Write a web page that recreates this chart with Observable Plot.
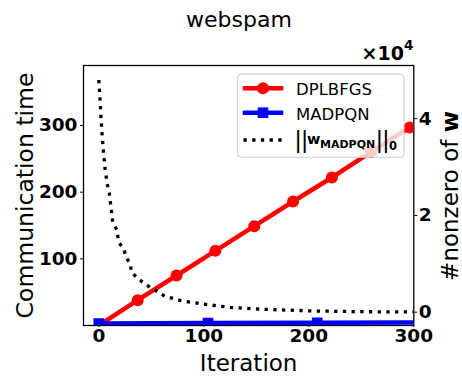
<!DOCTYPE html>
<html><head><meta charset="utf-8">
<script src="https://cdn.jsdelivr.net/npm/d3@7"></script>
<script src="https://cdn.jsdelivr.net/npm/@observablehq/plot@0.6"></script>
<style>
html,body{margin:0;padding:0;background:#fff;}
#wrap{position:relative;width:462px;height:377px;overflow:hidden;font-family:"DejaVu Sans",sans-serif;}
#wrap svg{position:absolute;left:0;top:0;}
</style></head><body><div id="wrap"></div>
<script>
// ---- data ----
const redIter = [0, 37, 74, 111, 148, 185, 222, 259, 296];
const redComm = [0, 38, 75, 112, 149, 186, 222, 260, 297];
const blueIter = [0, 104, 208, 300];
const blueComm = [3, 3.8, 4.2, 4.5];
const blueMarkIter = [0, 104, 208];
const nnzIter = [0, 1, 2, 3, 4.5, 6, 8, 10, 12, 13, 17, 19, 24, 26, 30, 31, 37, 43, 50, 63, 78, 102, 125, 157, 204, 252, 300];
const nnzVal  = [48000, 44500, 40500, 37000, 33000, 29500, 26500, 24500, 21000, 19000, 17000, 14500, 12900, 11400, 9900, 8300, 7000, 6000, 5000, 3300, 2400, 1600, 1000, 600, 250, 100, 50];
const xTicks = [0, 100, 200, 300];
const leftTicks = [100, 200, 300];
const rightTicks = [0, 20000, 40000];
const rightTickLabels = ["0", "2", "4"];
const seriesNames = ["DPLBFGS", "MADPQN"];

const red = redIter.map((x, i) => ({iter: x, comm: redComm[i]}));
const blue = blueIter.map((x, i) => ({iter: x, comm: blueComm[i]}));
const blueMarks = blue.filter(d => blueMarkIter.includes(d.iter));
const nnz = nnzIter.map((x, i) => ({iter: x, v: nnzVal[i]}));

const M = {width: 462, height: 377, marginLeft: 83, marginRight: 48.7, marginTop: 65, marginBottom: 52};
const st = {background: "transparent", fontFamily: "DejaVu Sans", color: "black", overflow: "visible"};

const p1 = Plot.plot({
  ...M, style: st,
  x: {domain: [-14.6, 300]},
  y: {domain: [0, 390]},
  marks: [
    Plot.frame({stroke: "black", strokeWidth: 1.3}),
    Plot.line(red, {x: "iter", y: "comm", stroke: "#ff0000", strokeWidth: 4.5, clip: true}),
    Plot.dot(red.slice(1), {x: "iter", y: "comm", r: 6, fill: "#ff0000", clip: true}),
    Plot.line(blue, {x: "iter", y: "comm", stroke: "#0000ff", strokeWidth: 4.5, clip: true}),
    Plot.dot(blueMarks, {x: "iter", y: "comm", symbol: "square", r: 6, fill: "#0000ff", clip: true}),
    Plot.axisX({ticks: xTicks, tickSize: 2, tickPadding: 1, fontSize: 18.5, fontWeight: "bold", label: null}),
    Plot.axisY({ticks: leftTicks, tickSize: 3, tickPadding: 3, fontSize: 18.5, fontWeight: "bold", label: null}),
    Plot.text(["Iteration"], {text: d => d, frameAnchor: "bottom", dy: 38.5, fontSize: 23, textAnchor: "middle", lineAnchor: "middle"}),
    Plot.text(["Communication time"], {text: d => d, frameAnchor: "left", dx: -58, rotate: -90, fontSize: 23.5, textAnchor: "middle", lineAnchor: "middle"})
  ]
});

const p2 = Plot.plot({
  ...M, style: st,
  x: {domain: [-14.6, 300], axis: null},
  y: {domain: [-2750, 51000]},
  marks: [
    Plot.line(nnz, {x: "iter", y: "v", stroke: "black", strokeWidth: 3.3, strokeDasharray: "3.3,5.4", strokeLinecap: "butt", strokeLinejoin: "miter", clip: true}),
    Plot.axisY({anchor: "right", ticks: rightTicks, tickFormat: d => rightTickLabels[rightTicks.indexOf(d)], tickSize: 3, tickPadding: 2, fontSize: 18.5, fontWeight: "bold", label: null})
  ]
});

const wrap = document.getElementById("wrap");
wrap.appendChild(p1);
wrap.appendChild(p2);

const ov = document.createElementNS("http://www.w3.org/2000/svg", "svg");
ov.setAttribute("width", 462); ov.setAttribute("height", 377);
ov.setAttribute("font-family", "DejaVu Sans");
ov.innerHTML = `
<text x="239" y="27" text-anchor="middle" font-size="22">webspam</text>
<text x="413.3" y="60" text-anchor="end" font-weight="bold" font-size="19">×10<tspan dy="-10" font-size="13.5">4</tspan></text>
<text transform="translate(450.5,196) rotate(-90)" text-anchor="middle" dy="0.32em" font-size="23">#nonzero of <tspan font-weight="bold">w</tspan></text>
<rect x="237.3" y="74" width="166.7" height="83.3" rx="4" fill="white" fill-opacity="0.8" stroke="#cccccc" stroke-width="1"/>
<line x1="242.7" x2="283.3" y1="88.3" y2="88.3" stroke="#ff0000" stroke-width="4.5"/>
<circle cx="263" cy="88.3" r="6" fill="#ff0000"/>
<text x="296" y="95" font-size="16.5">${seriesNames[0]}</text>
<line x1="242.7" x2="283.3" y1="112.7" y2="112.7" stroke="#0000ff" stroke-width="4.5"/>
<rect x="257.7" y="107.4" width="10.6" height="10.6" fill="#0000ff"/>
<text x="296" y="119.5" font-size="16.5">${seriesNames[1]}</text>
<line x1="243.5" x2="283.3" y1="140" y2="140" stroke="black" stroke-width="3.3" stroke-dasharray="3.3,5.4"/>
<text x="294.2" y="148" font-size="23" letter-spacing="-1.2">||</text>
<text x="307" y="144" font-size="14.5" font-weight="bold">w</text>
<text x="320" y="148" font-size="11" font-weight="bold">MADPQN</text>
<text x="375.5" y="148" font-size="23" letter-spacing="-1.2">||</text>
<text x="389" y="150" font-size="11.5" font-weight="bold">0</text>
`;
wrap.appendChild(ov);
</script></body></html>
